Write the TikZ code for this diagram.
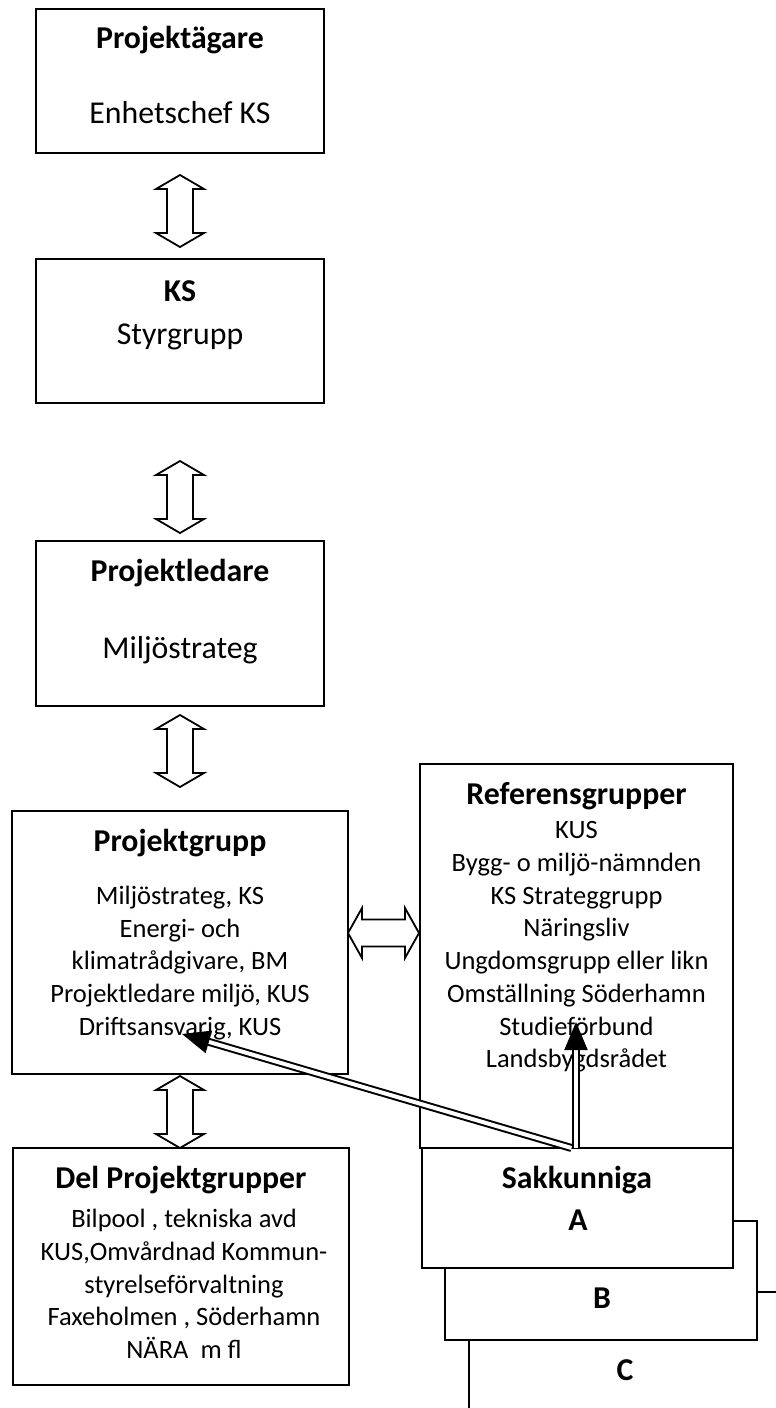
\documentclass[tikz,border=0pt]{standalone}
\usepackage{fontspec}
\setmainfont{Carlito}
\usepackage{tikz}
\usetikzlibrary{calc}
\usetikzlibrary{arrows.meta}
\newcommand{\bigsize}{\fontsize{15.9}{19}\selectfont}
\newcommand{\smallsize}{\fontsize{13.25}{16.35}\selectfont}
\tikzset{%
  mybox/.style={draw=black, line width=1pt, fill=white, inner sep=0pt, outer sep=0pt},
  mytitle/.style={font=\bigsize\bfseries, inner sep=0pt},
  mybig/.style={font=\bigsize, inner sep=0pt},
  mytext/.style={font=\smallsize, align=center, inner sep=0pt},
  myarrow/.style={draw=black, line width=0.9pt, fill=white, line join=miter},
  mylink/.style={double=white, draw=black, double distance=2pt, line width=1pt,
    -{Triangle[length=14pt, width=11.5pt]}}
}

\begin{document}
\begin{tikzpicture}[x=0.5pt, y=-0.5pt]
  \useasboundingbox (0,0) rectangle (776,1408);
  \clip (0,0) rectangle (776,1408);
  % left column
  \node[mybox, minimum width=144pt, minimum height=72pt] (owner) at (180,81) {};
  \node[mytitle] (ownerT) at (180,40) {Projektägare};
  \node[mybig] (ownerB) at (180,113) {Enhetschef KS};
  \node[mybox, minimum width=144pt, minimum height=72pt] (ks) at (180,331) {};
  \node[mytitle] (ksT) at (180,291) {KS};
  \node[mybig] (ksB) at (180,337) {Styrgrupp};
  \node[mybox, minimum width=144pt, minimum height=82.5pt] (leader) at (180,623.5) {};
  \node[mytitle] (leaderT) at (180,573) {Projektledare};
  \node[mybig] (leaderB) at (180,650) {Miljöstrateg};
  \node[mybox, minimum width=168pt, minimum height=131.5pt] (group) at (180,942.5) {};
  \node[mytitle] (groupT) at (180,843) {Projektgrupp};
  \node[mytext] (groupB) at (180,963) {Miljöstrateg, KS\\Energi- och\\klimatrådgivare, BM\\Projektledare miljö, KUS\\Driftsansvarig, KUS};
  \node[mybox, minimum width=168pt, minimum height=118.5pt] (sub) at (181,1266.5) {};
  \node[mytitle] (subT) at (181,1180) {Del Projektgrupper};
  \node[mytext] (subB) at (184,1284) {Bilpool , tekniska avd\\KUS,Omvårdnad Kommun-\\styrelseförvaltning\\Faxeholmen , Söderhamn\\NÄRA\ \ m fl};
  % right column
  \node[mybox, minimum width=156.5pt, minimum height=192pt] (ref) at (576.5,956) {};
  \node[mytitle] (refT) at (576.5,796) {Referensgrupper};
  \node[mytext] (refB) at (576.5,947) {KUS\\Bygg- o miljö-nämnden\\KS Strateggrupp\\Näringsliv\\Ungdomsgrupp eller likn\\Omställning Söderhamn\\Studieförbund\\Landsbygdsrådet};
  \node[mybox, minimum width=156pt, minimum height=78pt] (sakC) at (625,1370) {};
  \node[mytitle] (sakCT) at (625,1370) {C};
  \node[mybox, minimum width=156pt, minimum height=59.5pt] (sakB) at (601,1280.5) {};
  \node[mytitle] (sakBT) at (602,1298) {B};
  \node[mybox, minimum width=155.5pt, minimum height=60pt] (sakA) at (577.5,1208) {};
  \node[mytitle] (sakAT) at (577,1180) {Sakkunniga};
  \node[mytitle] (sakAL) at (578,1220) {A};
  % hollow arrows
  \foreach \y in {211,497,751,1112}
    \draw[myarrow] (180,\y) ++(0,-36) -- ++(24,14) -- ++(-11,0) -- ++(0,44) -- ++(11,0)
      -- ++(-24,14) -- ++(-24,-14) -- ++(11,0) -- ++(0,-44) -- ++(-11,0) -- cycle;
  \draw[myarrow] (group.east |- 0,933) -- ++(14,-25) -- ++(0,11.5) -- ++(43,0) -- ++(0,-11.5)
    -- ++(14,25) -- ++(-14,25) -- ++(0,-11.5) -- ++(-43,0) -- ++(0,11.5) -- cycle;
  % links from Sakkunniga
  \coordinate (dstart) at ($(sakA.north)+(-6,0)$);
  \coordinate (vstart) at ($(sakA.north)+(-1.5,0)$);
  \coordinate (gtip) at (182,1034);
  \coordinate (rtip) at (576,1022);
  \draw[mylink] (dstart) -- (gtip);
  \draw[mylink] (vstart) -- (rtip);
\end{tikzpicture}
\end{document}
